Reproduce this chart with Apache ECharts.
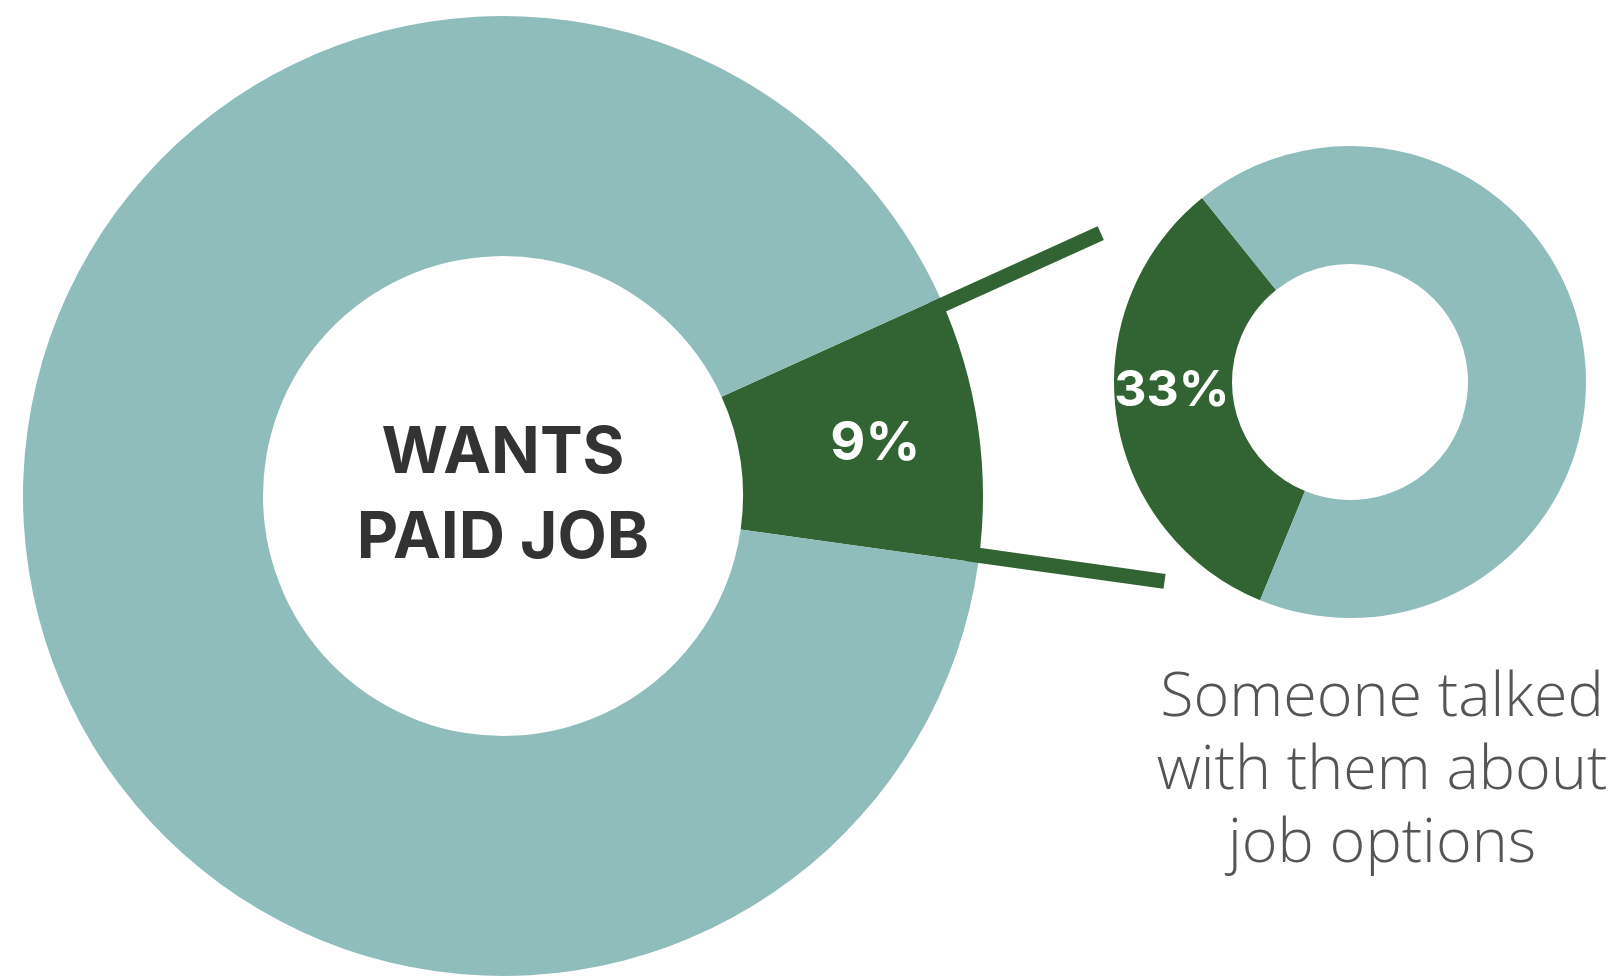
<!DOCTYPE html>
<html><head><meta charset="utf-8">
<script src="https://cdn.jsdelivr.net/npm/echarts@6/dist/echarts.min.js"></script>
<style>html,body{margin:0;padding:0;background:#fff;overflow:hidden}#c{width:1618px;height:977px}</style>
</head><body><div id="c"></div>
<script>
// ---- data ----
const mainCategories = ['Wants paid job', 'Other'];
const mainValues = [9, 91];
const subCategories = ['Someone talked with them about job options', 'Other'];
const subValues = [33, 67];
const centerTitle = ['WANTS', 'PAID JOB'];
const subCaption = ['Someone talked', 'with them about', 'job options'];

// ---- style ----
const TEAL = '#8ebdbc', GREEN = '#326332';
const bigC = [503, 496], bigR = [240, 480];
const smallC = [1350, 382], smallR = [118, 236];
const bigStart = 24.4;
const smallStart = 128.8;

const chart = echarts.init(document.getElementById('c'));

const total = mainValues.reduce((a, b) => a + b, 0);
const aUp = bigStart * Math.PI / 180;
const aLo = (bigStart - mainValues[0] / total * 360) * Math.PI / 180;
const LW = 15;
function ray(a, r0, r1, sign) {
  const ux = Math.cos(a), uy = -Math.sin(a);
  const px = sign * Math.sin(a) * LW / 2, py = sign * Math.cos(a) * LW / 2;
  return {
    x1: bigC[0] + ux * r0 + px, y1: bigC[1] + uy * r0 + py,
    x2: bigC[0] + ux * r1 + px, y2: bigC[1] + uy * r1 + py
  };
}

const fontBold = 'Inter, "Noto Sans", sans-serif';

chart.setOption({
  animation: false,
  backgroundColor: '#fff',
  series: [
    {
      type: 'pie', center: bigC, radius: bigR, startAngle: bigStart, clockwise: true,
      silent: true,
      data: mainValues.map((v, i) => ({
        name: mainCategories[i], value: v,
        itemStyle: { color: i === 0 ? GREEN : TEAL },
        label: i === 0 ? {
          show: true, position: 'inside', formatter: v + '%',
          color: '#fff', fontSize: 54, fontWeight: 'bold', fontFamily: fontBold,
          padding: [0, 0, 0, 26]
        } : { show: false }
      })),
      labelLine: { show: false }
    },
    {
      type: 'pie', center: smallC, radius: smallR, startAngle: smallStart, clockwise: false,
      silent: true,
      data: subValues.map((v, i) => ({
        name: subCategories[i], value: v,
        itemStyle: { color: i === 0 ? GREEN : TEAL },
        label: i === 0 ? {
          show: true, position: 'inside', formatter: v + '%\n ',
          color: '#fff', fontSize: 50, fontWeight: 'bold', fontFamily: fontBold,
          lineHeight: 34
        } : { show: false }
      })),
      labelLine: { show: false }
    }
  ],
  graphic: [
    { type: 'line', z: 10, shape: ray(aUp, bigR[1] - 12, 653, 1), style: { stroke: GREEN, lineWidth: LW, lineCap: 'butt' } },
    { type: 'line', z: 10, shape: ray(aLo, bigR[1] - 12, 667, -1), style: { stroke: GREEN, lineWidth: LW, lineCap: 'butt' } },
    {
      type: 'text', z: 10, x: bigC[0], y: bigC[1],
      style: {
        text: centerTitle.join('\n'), fill: '#333', font: 'bold 64px ' + fontBold,
        align: 'center', verticalAlign: 'middle', lineHeight: 85
      }
    },
    {
      type: 'text', z: 10, x: 1382, y: 662,
      style: {
        text: subCaption.join('\n'), fill: '#555', font: '300 61px "Open Sans", sans-serif',
        align: 'center', verticalAlign: 'top', lineHeight: 73
      }
    }
  ]
});
</script></body></html>
